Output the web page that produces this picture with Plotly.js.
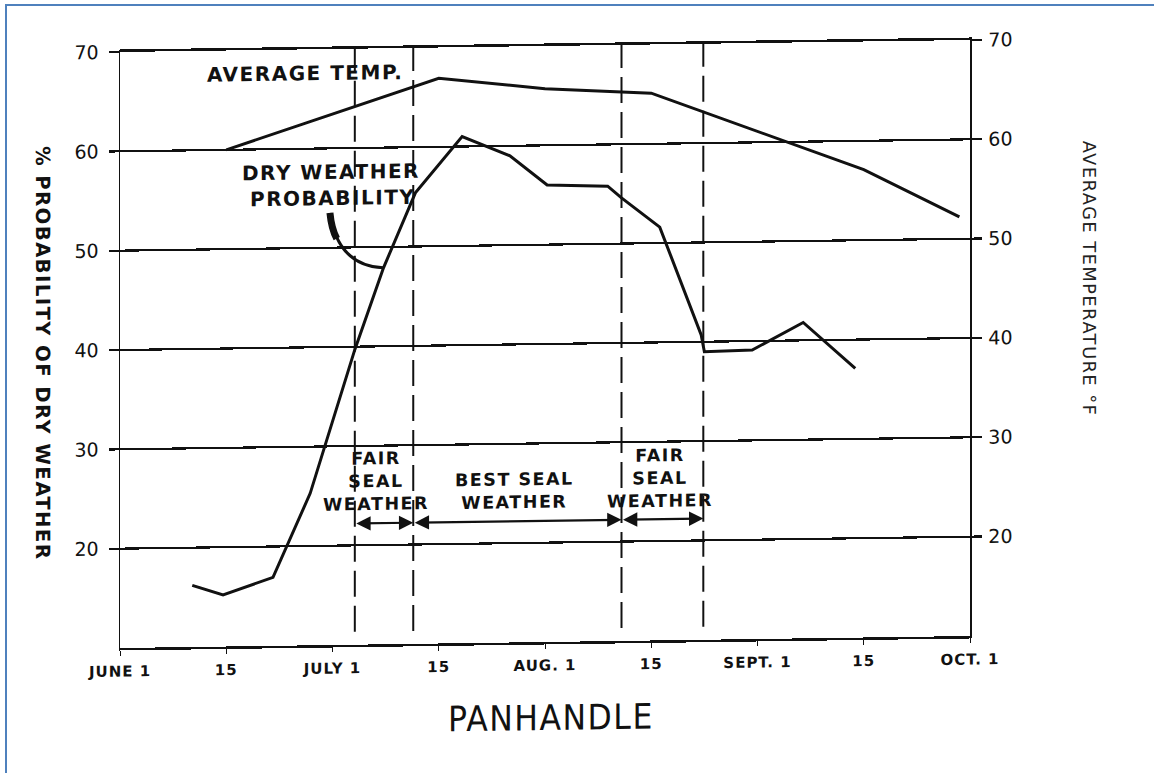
<!DOCTYPE html>
<html><head><meta charset="utf-8">
<script src="https://cdn.plot.ly/plotly-3.0.1.min.js"></script>
<style>
html,body{margin:0;padding:0;background:#fff;overflow:hidden;}
#chart{position:absolute;left:0;top:0;width:1154px;height:773px;transform:skewY(-0.81deg);transform-origin:545px 344px;}
#frame{position:absolute;left:5px;top:4px;width:1200px;height:800px;border-left:2px solid #4f81bd;border-top:2px solid #4f81bd;pointer-events:none;}
.annotation-text{letter-spacing:1.5px;}
.xtick text{letter-spacing:1px;}
</style></head>
<body><div id="chart"></div><div id="frame"></div>
<script>
// x is measured in half-month steps from June 1 (0 = June 1, 1 = June 15, 2 = July 1, ... 8 = Oct 1)
const tickPos = [0, 1, 2, 3, 4, 5, 6, 7, 8];
const tickLabels = ["JUNE 1", "15", "JULY 1", "15", "AUG. 1", "15", "SEPT. 1", "15", "OCT. 1"];
const yTicks = [20, 30, 40, 50, 60, 70];

// Average temperature, °F (right axis)
const tempX = [1.0, 3.0, 4.0, 5.0, 7.0, 7.9];
const tempF = [60.0, 66.9, 65.7, 65.1, 57.1, 52.2];

// Dry weather probability, % (left axis)
const dryX = [0.68, 0.97, 1.44, 1.79, 2.21, 2.48, 2.78, 3.22, 3.67, 4.02, 4.59, 4.72, 5.08, 5.47, 5.50, 5.95, 6.43, 6.92];
const dryPct = [16.2, 15.2, 16.9, 25.3, 39.7, 47.9, 55.4, 61.0, 59.0, 56.0, 55.8, 54.6, 51.6, 40.7, 39.0, 39.1, 41.8, 37.1];

// Seal-weather period boundaries (dashed lines) and their labels
const sealEdges = [2.21, 2.76, 4.72, 5.49];
const sealNames = ["FAIR<br>SEAL<br>WEATHER", "BEST SEAL<br>WEATHER", "FAIR<br>SEAL<br>WEATHER"];

const inkFont = {family: "DejaVu Sans", size: 20, color: "#111", weight: "bold"};

const traces = [
  {x: dryX, y: dryPct, type: "scatter", mode: "lines", yaxis: "y",
   line: {color: "#111", width: 3}, hoverinfo: "skip", showlegend: false},
  {x: tempX, y: tempF, type: "scatter", mode: "lines", yaxis: "y2",
   line: {color: "#111", width: 3}, hoverinfo: "skip", showlegend: false}
];

const shapes = [];
sealEdges.forEach(function (e) {
  shapes.push({type: "line", xref: "x", yref: "y", x0: e, x1: e, y0: 11.3, y1: 70,
    line: {color: "#111", width: 2, dash: "26px,9px"}});
});
// curved pointer from the label to the curve
shapes.push({type: "path", xref: "x", yref: "y",
  path: "M 1.976,53.5 Q 2.05,48.2 2.475,47.9", line: {color: "#111", width: 3}});
shapes.push({type: "path", xref: "x", yref: "y",
  path: "M 1.976,53.5 Q 1.99,51.9 2.04,50.9", line: {color: "#111", width: 7}});

function label(t, x, y, size) {
  return {text: t, x: x, y: y, xref: "x", yref: "y", showarrow: false,
    xanchor: "center", yanchor: "middle",
    font: Object.assign({}, inkFont, size ? {size: size} : {})};
}
const labelPos = [[2.41, 26.45], [3.71, 25.3], [5.08, 26.35]];
const annotations = [
  label("AVERAGE TEMP.", 1.74, 67.6),
  label("DRY WEATHER", 1.99, 57.6),
  label("PROBABILITY", 2.0, 55.0)
];
sealNames.forEach(function (n, i) {
  annotations.push(label(n, labelPos[i][0], labelPos[i][1], 17.5));
});
for (let i = 0; i < sealEdges.length - 1; i++) {
  annotations.push({x: sealEdges[i + 1], y: 22.2, ax: sealEdges[i], ay: 22.2,
    xref: "x", yref: "y", axref: "x", ayref: "y", text: "", showarrow: true,
    arrowhead: 2, arrowside: "end+start", arrowsize: 1.3, arrowwidth: 2.2, arrowcolor: "#111"});
}
annotations.push({text: "% PROBABILITY OF DRY WEATHER", xref: "paper", yref: "paper",
  x: -0.092, y: 0.497, xanchor: "center", yanchor: "middle", textangle: 90, showarrow: false,
  font: {family: "DejaVu Sans", size: 19.5, color: "#111", weight: "bold"}});
annotations.push({text: "AVERAGE TEMPERATURE °F", xref: "paper", yref: "paper",
  x: 1.141, y: 0.597, xanchor: "center", yanchor: "middle", textangle: 90, showarrow: false,
  font: {family: "DejaVu Sans", size: 17.8, color: "#222"}});
annotations.push({text: "PANHANDLE", xref: "paper", yref: "paper",
  x: 0.507, y: -0.128, xanchor: "center", yanchor: "middle", showarrow: false,
  font: {family: "Liberation Sans Narrow, DejaVu Sans Condensed, Liberation Sans", size: 35, color: "#111"}});

const layout = {
  width: 1154, height: 773,
  margin: {l: 120, r: 184, t: 46, b: 131, pad: 0},
  paper_bgcolor: "#fff", plot_bgcolor: "rgba(0,0,0,0)",
  showlegend: false,
  xaxis: {range: [0, 8], tickmode: "array", tickvals: tickPos, ticktext: tickLabels,
    showgrid: false, zeroline: false, showline: true, mirror: true, linecolor: "#111", linewidth: 2.5,
    ticks: "outside", ticklen: 5, tickwidth: 1, tickcolor: "#111", ticklabelstandoff: 3,
    tickfont: {family: "DejaVu Sans", size: 15, color: "#111", weight: "bold"}},
  yaxis: {range: [10, 70], tickmode: "array", tickvals: yTicks,
    showgrid: true, gridcolor: "#111", gridwidth: 2.2, zeroline: false,
    showline: true, linecolor: "#111", linewidth: 1.5,
    ticks: "outside", ticklen: 10, tickwidth: 2.2, tickcolor: "#111", ticklabelstandoff: 6,
    tickfont: {family: "DejaVu Sans", size: 19, color: "#111"}},
  yaxis2: {range: [10, 70], overlaying: "y", side: "right", tickmode: "array", tickvals: yTicks,
    showgrid: false, zeroline: false, showline: true, linecolor: "#111", linewidth: 1.5,
    ticks: "outside", ticklen: 10, tickwidth: 2.2, tickcolor: "#111", ticklabelstandoff: 3,
    tickfont: {family: "DejaVu Sans", size: 19, color: "#111"}},
  shapes: shapes,
  annotations: annotations
};

Plotly.newPlot("chart", traces, layout, {staticPlot: true, displayModeBar: false});
</script></body></html>
